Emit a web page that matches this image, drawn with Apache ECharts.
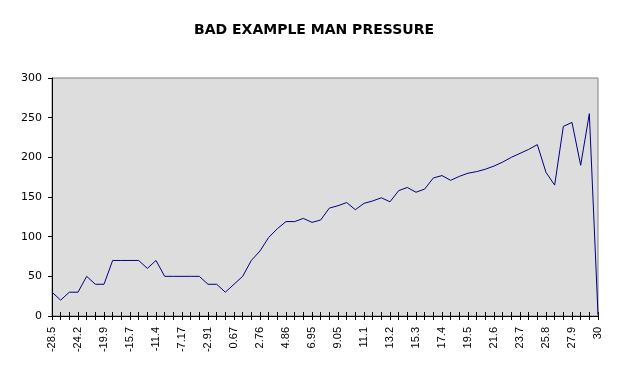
<!DOCTYPE html>
<html>
<head>
    <meta charset="UTF-8">
    <title>Bad example man pressure</title>
    <script src="https://cdn.jsdelivr.net/npm/echarts@6/dist/echarts.min.js"></script>
    <style>
        body { margin: 0; background: #fff; }
    </style>
</head>
<body>
<div id="chart" style="width:628px; height:376px;"></div>
<script>
    // x categories (only every third one is labelled on the chart)
    var positions = [
        -28.5, -27.1, -25.6, -24.2, -22.8, -21.3, -19.9, -18.5, -17.1, -15.7,
        -14.3, -12.8, -11.4, -10, -8.59, -7.17, -5.75, -4.33, -2.91, -1.72,
        -0.52, 0.67, 1.37, 2.06, 2.76, 3.46, 4.16, 4.86, 5.56, 6.25,
        6.95, 7.65, 8.35, 9.05, 9.73, 10.4, 11.1, 11.8, 12.5, 13.2,
        13.9, 14.6, 15.3, 16, 16.7, 17.4, 18.1, 18.8, 19.5, 20.2,
        20.9, 21.6, 22.3, 23, 23.7, 24.4, 25.1, 25.8, 26.5, 27.2,
        27.9, 28.6, 29.3, 30
    ];
    var pressure = [
        30, 20, 30, 30, 50, 40, 40, 70, 70, 70,
        70, 60, 70, 50, 50, 50, 50, 50, 40, 40,
        30, 40, 50, 70, 82, 99, 110, 119, 119, 123,
        118, 121, 136, 139, 143, 134, 142, 145, 149, 144,
        158, 162, 156, 160, 174, 177, 171, 176, 180, 182,
        185, 189, 194, 200, 205, 210, 216, 181, 165, 239,
        244, 190, 255, 2
    ];
    var yTicks = [0, 50, 100, 150, 200, 250, 300];

    var font = 'Liberation Sans, Arial, sans-serif';
    var wide = 'DejaVu Sans, sans-serif';
    var chart = echarts.init(document.getElementById('chart'), null, {renderer: 'canvas'});

    chart.setOption({
        animation: false,
        title: {
            text: 'BAD EXAMPLE MAN PRESSURE',
            left: 'center',
            top: 18,
            textStyle: {fontFamily: wide, fontSize: 14, fontWeight: 'bold', color: '#000'}
        },
        grid: {
            left: 52, right: 30, top: 78, bottom: 60,
            show: true,
            backgroundColor: '#dddddd',
            borderColor: '#808080',
            borderWidth: 1
        },
        xAxis: [{
            type: 'category',
            data: positions,
            boundaryGap: false,
            axisLine: {lineStyle: {color: '#000', width: 1}},
            axisTick: {show: true, interval: 0, length: 4, lineStyle: {color: '#000'}},
            axisLabel: {
                interval: 2, rotate: 90, margin: 11,
                fontFamily: font, fontSize: 11, color: '#000'
            },
            splitLine: {show: false}
        }, {
            // second copy so the ticks cross the axis line
            type: 'category',
            data: positions,
            position: 'bottom',
            boundaryGap: false,
            axisLine: {show: false},
            axisTick: {show: true, inside: true, interval: 0, length: 4, lineStyle: {color: '#000'}},
            axisLabel: {show: false},
            splitLine: {show: false}
        }],
        yAxis: {
            type: 'value',
            min: yTicks[0],
            max: yTicks[yTicks.length - 1],
            interval: 50,
            axisLine: {show: true, lineStyle: {color: '#000', width: 1}},
            axisTick: {show: true, length: 4, lineStyle: {color: '#000'}},
            axisLabel: {margin: 10, fontFamily: wide, fontSize: 11, color: '#000'},
            splitLine: {show: false}
        },
        series: [{
            type: 'line',
            data: pressure,
            showSymbol: false,
            symbol: 'none',
            lineStyle: {color: '#000080', width: 1},
            itemStyle: {color: '#000080'}
        }]
    });
</script>
</body>
</html>
